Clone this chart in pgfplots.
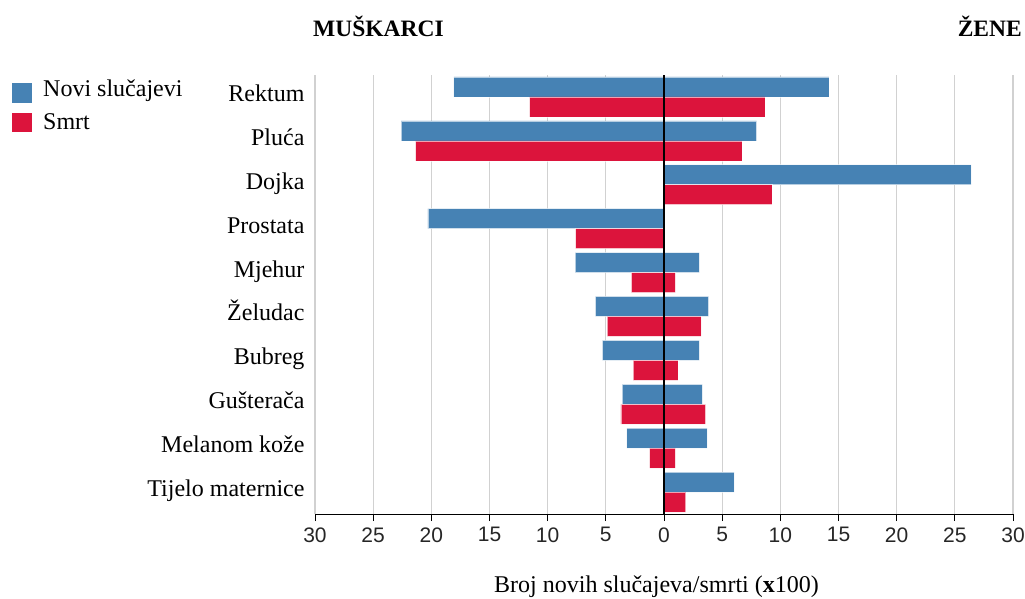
\documentclass[border=0pt]{standalone}
\usepackage{fontspec}
\setmainfont{Liberation Serif}
\newfontfamily\arialf{Liberation Sans}
\usepackage{pgfplots}
\pgfplotsset{compat=1.18}
\definecolor{novi}{HTML}{4682B4}
\definecolor{smrt}{HTML}{DC143C}
\begin{document}
\begin{tikzpicture}
\path[use as bounding box] (0,0) rectangle (1025pt,-599pt);
\begin{axis}[
  at={(315pt,-514pt)}, anchor=south west,
  scale only axis, width=698pt, height=439pt,
  xmin=-30, xmax=30, ymin=-0.5, ymax=9.5, y dir=reverse,
  axis x line*=bottom, axis y line*=left,
  y axis line style={draw=none},
  x axis line style={line width=1pt, -},
  xtick={-30,-25,...,30},
  xticklabels={30,25,20,15,10,5,0,5,10,15,20,25,30},
  ytick={0,...,9},
  yticklabels={Rektum,Pluća,Dojka,Prostata,Mjehur,Želudac,Bubreg,Gušterača,Melanom kože,Tijelo maternice},
  tick align=outside, major tick length=7pt,
  xtick style={black, line width=1pt},
  ytick style={draw=none},
  xmajorgrids, grid style={black!18, line width=1.2pt},
  xticklabel style={font=\arialf\fontsize{21}{24}\selectfont, text=black!85, yshift=-3pt},
  yticklabel style={font=\fontsize{24}{28}\selectfont, text height=15pt, text depth=6pt, anchor=east},
  xbar, bar width=0.455,
  every axis plot/.append style={draw=white, draw opacity=0.6, line width=0.6pt},
]
% Novi slucajevi - muskarci
\addplot[fill=novi, bar shift=-0.2275] coordinates {
  (-18.07,0) (-22.6,1) (-20.3,3) (-7.64,4) (-5.9,5) (-5.3,6) (-3.6,7) (-3.2,8)};
% Novi slucajevi - zene
\addplot[fill=novi, bar shift=-0.2275] coordinates {
  (14.17,0) (7.97,1) (26.4,2) (3.05,4) (3.83,5) (3.05,6) (3.3,7) (3.7,8) (6.03,9)};
% Smrt - muskarci
\addplot[fill=smrt, bar shift=0.2275] coordinates {
  (-11.55,0) (-21.35,1) (-7.6,3) (-2.8,4) (-4.9,5) (-2.65,6) (-3.7,7) (-1.23,8)};
% Smrt - zene
\addplot[fill=smrt, bar shift=0.2275] coordinates {
  (8.68,0) (6.7,1) (9.27,2) (0.98,4) (3.2,5) (1.2,6) (3.57,7) (0.98,8) (1.87,9)};
\draw[black, line width=1.5pt] (axis cs:0,-0.5) -- (axis cs:0,9.5);
\end{axis}
% titles
\node[anchor=base west, inner sep=0pt, font=\fontsize{23.5}{28}\selectfont\bfseries] at (313pt,-37pt) {MUŠKARCI};
\node[anchor=base east, inner sep=0pt, font=\fontsize{23.5}{28}\selectfont\bfseries] at (1022pt,-37pt) {ŽENE};
% legend
\fill[novi] (12pt,-83.5pt) rectangle (31.5pt,-103.3pt);
\fill[smrt] (12pt,-112.7pt) rectangle (31.5pt,-132.3pt);
\node[anchor=base west, inner sep=0pt, font=\fontsize{24}{28}\selectfont] at (43pt,-97pt) {Novi slučajevi};
\node[anchor=base west, inner sep=0pt, font=\fontsize{24}{28}\selectfont] at (43pt,-130pt) {Smrt};
% x label
\node[anchor=base, inner sep=0pt, font=\fontsize{24}{28}\selectfont] at (656.5pt,-592pt) {Broj novih slučajeva/smrti (\textbf{x}100)};
\end{tikzpicture}
\end{document}
